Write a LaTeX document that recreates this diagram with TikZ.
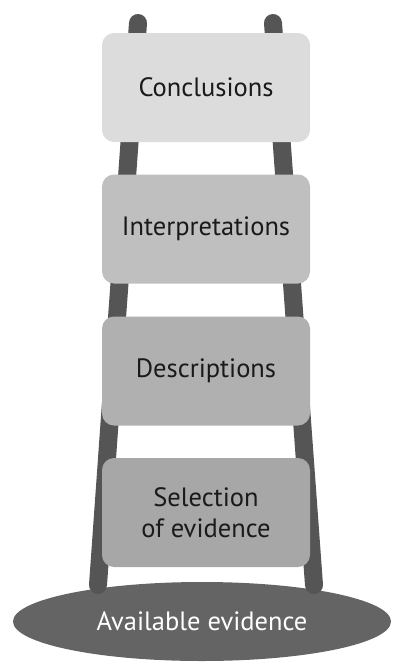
\documentclass[tikz,border=0pt]{standalone}
\usepackage{fontspec}
\setmainfont{PT Sans}
\usetikzlibrary{shapes.geometric}
\definecolor{railgray}{HTML}{555555}
\definecolor{groundgray}{HTML}{646464}
\definecolor{textdark}{HTML}{1A1A1A}
\definecolor{stepA}{HTML}{DCDCDC}
\definecolor{stepB}{HTML}{BFBFBF}
\definecolor{stepC}{HTML}{B0B0B0}
\definecolor{stepD}{HTML}{A7A7A7}
\begin{document}
\begin{tikzpicture}[x=1pt,y=-1pt,
  rungbox/.style={draw=none,rounded corners=12pt,minimum width=208pt,minimum height=109pt,
    inner sep=0pt,text=textdark,font=\fontsize{26.5}{31}\selectfont,align=center},
  rail/.style={draw=railgray,line width=18pt,line cap=round}]
\useasboundingbox (0,0) rectangle (392,664);

% ground
\node[ellipse,fill=groundgray,minimum width=378pt,minimum height=79pt,inner sep=0pt,
  text=white,font=\fontsize{26.5}{31}\selectfont] (ground) at (202,621.5) {Available evidence};

% ladder rails
\coordinate (lt) at (138,23);
\coordinate (lb) at (98,585);
\coordinate (rt) at (273,23);
\coordinate (rb) at (314,585);
\draw[rail] (lt) -- (lb);
\draw[rail] (rt) -- (rb);

% rungs
\node[rungbox,fill=stepA] (concl) at (206,87.5) {Conclusions};
\node[rungbox,fill=stepB] (interp) at (206,229) {Interpretations};
\node[rungbox,fill=stepC] (descr) at (206,371) {Descriptions};
\node[rungbox,fill=stepD] (select) at (206,512.5) {Selection\\of evidence};
\end{tikzpicture}
\end{document}
